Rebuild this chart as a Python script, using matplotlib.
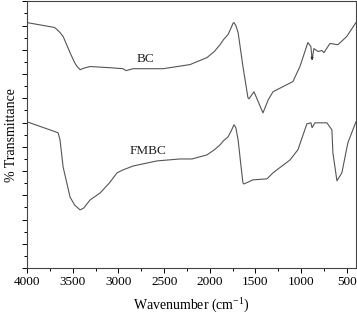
import matplotlib
matplotlib.use("Agg")
import matplotlib.pyplot as plt
from matplotlib.ticker import MultipleLocator, NullFormatter

plt.rcParams['font.family'] = ['Liberation Serif', 'DejaVu Serif']

# BC spectrum (wavenumber, relative transmittance)
bc_wn = [4000, 3700, 3672, 3640, 3606, 3530, 3480, 3453, 3420, 3380, 3311, 3092,
         2950, 2917, 2840, 2512, 2217, 2030, 1950, 1888, 1850, 1800, 1765, 1745,
         1735, 1715, 1690, 1637, 1582, 1571, 1516, 1418, 1360, 1308, 1199, 1090,
         1013, 926, 893, 880, 860, 815, 772, 750, 685, 597, 500, 400]
bc_t = [10.12, 9.92, 9.83, 9.71, 9.55, 8.88, 8.47, 8.31, 8.18, 8.24, 8.31, 8.26,
        8.22, 8.14, 8.22, 8.22, 8.39, 8.68, 8.93, 9.21, 9.42, 9.63, 9.92, 10.10,
        10.12, 10.00, 9.71, 8.31, 7.02, 6.98, 7.27, 6.40, 6.94, 7.27, 7.48, 7.69,
        8.31, 9.30, 9.13, 8.60, 9.05, 8.93, 8.97, 8.88, 9.26, 9.21, 9.55, 10.12]

# FMBC spectrum
fm_wn = [4000, 3661, 3640, 3606, 3530, 3480, 3420, 3380, 3311, 3201, 3100, 3015,
         2950, 2840, 2578, 2326, 2195, 2030, 1950, 1888, 1850, 1800, 1765, 1735,
         1715, 1690, 1660, 1637, 1626, 1527, 1374, 1308, 1122, 1035, 937, 893,
         880, 849, 718, 663, 652, 608, 554, 488, 400]
fm_t = [6.03, 5.58, 5.29, 4.17, 2.93, 2.60, 2.40, 2.48, 2.81, 3.10, 3.51, 3.93,
        4.05, 4.21, 4.42, 4.50, 4.50, 4.67, 4.88, 5.08, 5.25, 5.41, 5.66, 5.91,
        5.79, 5.29, 4.26, 3.51, 3.47, 3.64, 3.68, 3.93, 4.46, 4.88, 5.95, 5.99,
        5.79, 5.99, 5.99, 5.70, 4.75, 3.60, 3.93, 5.17, 6.03]

fig = plt.figure(figsize=(3.57, 3.14), dpi=100)
ax = fig.add_axes([0.076, 0.146, 0.921, 0.85])

ax.plot(bc_wn, bc_t, color="#555555", lw=0.8)
ax.plot(fm_wn, fm_t, color="#555555", lw=0.8)

# small arrow at the 880 cm-1 dip of BC
ax.annotate("", xy=(880, 8.45), xytext=(880, 8.85),
            arrowprops=dict(arrowstyle="-|>", color="#333333", lw=0.6,
                            mutation_scale=4))

ax.text(2709, 8.6, "BC", fontsize=9.5, ha="center", va="center", color="#222222")
ax.text(2676, 4.83, "FMBC", fontsize=9.5, ha="center", va="center", color="#222222")

ax.set_xlim(4000, 400)
ax.set_ylim(0, 11)
ax.xaxis.set_major_locator(MultipleLocator(500))
ax.xaxis.set_minor_locator(MultipleLocator(250))
ax.yaxis.set_major_locator(MultipleLocator(1))
ax.yaxis.set_minor_locator(MultipleLocator(0.5))
ax.yaxis.set_major_formatter(NullFormatter())
ax.tick_params(axis="both", which="major", direction="out", length=3.5, width=0.7,
               labelsize=9.5, pad=2)
ax.tick_params(axis="both", which="minor", direction="out", length=2, width=0.7)

for s in ax.spines.values():
    s.set_linewidth(0.8)
    s.set_color("#444444")

ax.set_xlabel("Wavenumber (cm$^{\\mathregular{-1}}$)", fontsize=10, labelpad=5)
ax.set_ylabel("% Transmittance", fontsize=10, labelpad=1)

fig.savefig("out.png", dpi=100)
